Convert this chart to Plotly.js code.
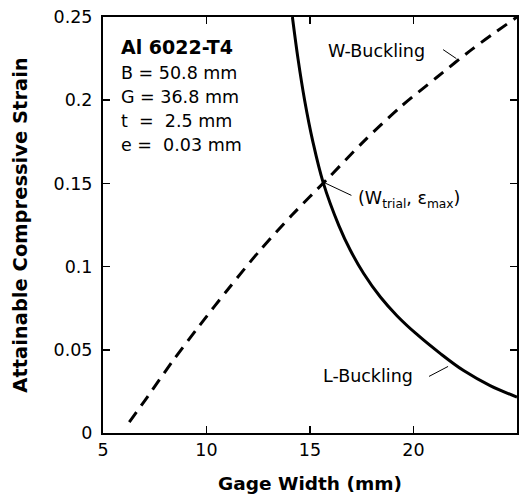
<!DOCTYPE html>
<html>
<head>
<meta charset="utf-8">
<script src="https://cdn.plot.ly/plotly-3.0.1.min.js"></script>
<style>html,body{margin:0;padding:0;background:#fff;}</style>
</head>
<body>
<div id="chart" style="width:528px;height:498px;"></div>
<script>
// W-Buckling (dashed)
const wWidth  = [6.27, 7.03, 8.33, 9.67, 11.06, 12.51, 14.13, 15.82, 17.56, 19.33, 21.1, 22.87, 25.0];
const wStrain = [0.0066, 0.0196, 0.0426, 0.0647, 0.0867, 0.1087, 0.131, 0.1524, 0.1748, 0.1955, 0.2135, 0.231, 0.25];
// L-Buckling (solid)
const lWidth  = [14.15, 14.42, 14.74, 15.14, 15.63, 16.4, 16.95, 17.6, 18.4, 19.2, 20.17, 21.3, 22.42, 23.7, 25.0];
const lStrain = [0.25, 0.225, 0.2, 0.175, 0.1508, 0.1245, 0.1098, 0.0957, 0.0817, 0.0705, 0.0592, 0.0477, 0.0375, 0.0285, 0.0216];
// Tick labels
const xTicks = [5, 10, 15, 20, 25];
const yTicks = [0, 0.05, 0.1, 0.15, 0.2, 0.25];
const infoLines = ["<b>Al 6022-T4</b>", "B = 50.8 mm", "G = 36.8 mm", "t\u00A0\u00A0=\u00A0\u00A02.5 mm", "e =\u00A0\u00A00.03 mm"];

const FONT = "DejaVu Sans";

const traces = [
  {x: wWidth, y: wStrain, mode: "lines", line: {color: "black", width: 3, dash: "12px,8px", shape: "spline", smoothing: 0.8}, hoverinfo: "skip"},
  {x: lWidth, y: lStrain, mode: "lines", line: {color: "black", width: 3, shape: "spline", smoothing: 1}, hoverinfo: "skip"}
];

const ann = [];
const infoY = [0.2318, 0.2162, 0.2018, 0.1874, 0.1730];
infoLines.forEach((t, i) => {
  ann.push({x: 5.78, y: infoY[i], xref: "x", yref: "y", text: t, showarrow: false, xanchor: "left", yanchor: "middle",
            font: {family: FONT, size: i === 0 ? 19 : 17.5, color: "black"}});
});
ann.push({x: 15.75, y: 0.2294, xref: "x", yref: "y", text: "W-Buckling", showarrow: false, xanchor: "left", yanchor: "middle", font: {family: FONT, size: 17.5, color: "black"}});
ann.push({x: 15.52, y: 0.0343, xref: "x", yref: "y", text: "L-Buckling", showarrow: false, xanchor: "left", yanchor: "middle", font: {family: FONT, size: 17.5, color: "black"}});
ann.push({x: 17.22, y: 0.1404, xref: "x", yref: "y", text: "(W<sub>trial</sub>, ε<sub>max</sub>)", showarrow: false, xanchor: "left", yanchor: "middle", font: {family: FONT, size: 17.5, color: "black"}});

const shapes = [
  {type: "line", xref: "x", yref: "y", x0: 21.43, y0: 0.2304, x1: 22.07, y1: 0.2250, line: {color: "black", width: 1}},
  {type: "line", xref: "x", yref: "y", x0: 15.63, y0: 0.1508, x1: 17.0, y1: 0.1428, line: {color: "black", width: 1}},
  {type: "line", xref: "x", yref: "y", x0: 20.75, y0: 0.0340, x1: 21.67, y1: 0.0400, line: {color: "black", width: 1}}
];

const axisCommon = {
  showgrid: false, zeroline: false, showline: true, linecolor: "black", linewidth: 2,
  mirror: "ticks", ticks: "inside", ticklen: 7, tickwidth: 1.5, tickcolor: "black",
  tickfont: {family: FONT, size: 17.5, color: "black"}
};

const layout = {
  width: 528, height: 498,
  margin: {l: 103, r: 11, t: 17, b: 65},
  paper_bgcolor: "white", plot_bgcolor: "white",
  showlegend: false,
  xaxis: Object.assign({}, axisCommon, {
    range: [5, 25], tickvals: xTicks, ticktext: xTicks.map(String),
    title: {text: "<b>Gage Width (mm)</b>", font: {family: FONT, size: 18.5, color: "black"}, standoff: 18}
  }),
  yaxis: Object.assign({}, axisCommon, {
    range: [0, 0.25], tickvals: yTicks, ticktext: yTicks.map(String), ticklabelstandoff: 5,
    title: {text: "<b>Attainable Compressive Strain</b>", font: {family: FONT, size: 19.5, color: "black"}, standoff: 21}
  }),
  annotations: ann,
  shapes: shapes
};

Plotly.newPlot("chart", traces, layout, {displayModeBar: false, staticPlot: true});
</script>
</body>
</html>
